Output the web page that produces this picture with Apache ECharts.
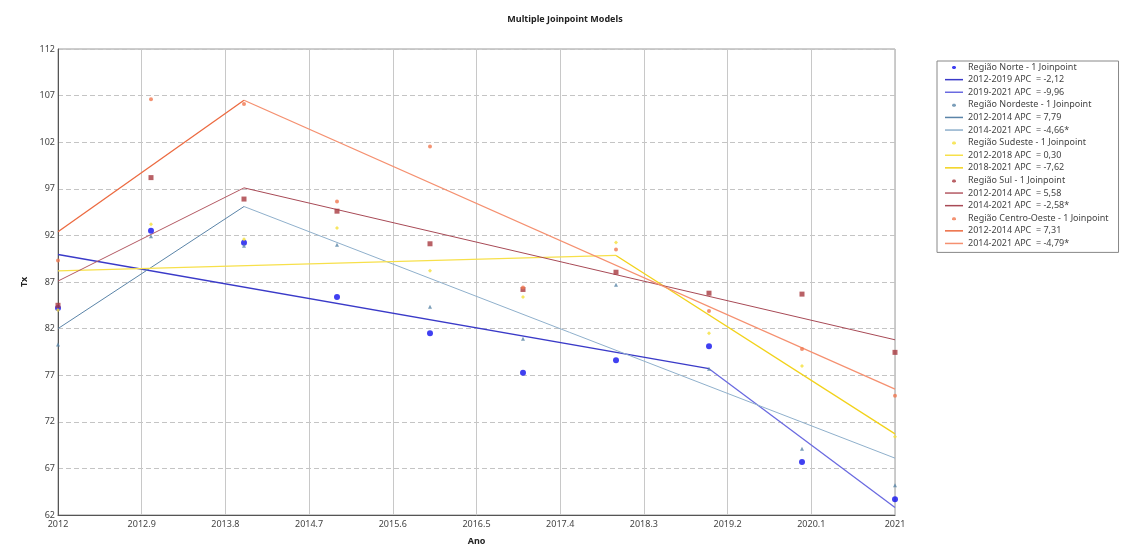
<!DOCTYPE html>
<html>
<head>
<meta charset="utf-8">
<script src="https://cdn.jsdelivr.net/npm/echarts@6/dist/echarts.min.js"></script>
<style>
  html, body { margin: 0; padding: 0; background: #fff; }
  #chart { width: 1132px; height: 551px; }
</style>
</head>
<body>
<div id="chart"></div>
<script>
// observed rates per region, 2012..2021
var years = [2012, 2013, 2014, 2015, 2016, 2017, 2018, 2019, 2020, 2021];
var norte = [84.2, 92.5, 91.2, 85.4, 81.5, 77.25, 78.6, 80.1, 67.7, 63.7];
var nordeste = [80.3, 91.9, 90.9, 91.0, 84.35, 80.9, 86.7, 77.7, 69.1, 65.2];
var sudeste = [84.0, 93.2, 91.6, 92.8, 88.2, 85.4, 91.25, 81.5, 78.0, 70.4];
var sul = [84.5, 98.2, 95.9, 94.6, 91.1, 86.2, 88.05, 85.8, 85.7, 79.45];
var centroOeste = [89.3, 106.6, 106.1, 95.65, 101.55, 86.4, 90.5, 83.9, 79.8, 74.8];

// joinpoint segments: [x, y] at segment ends
var norteSeg1 = [[2012, 89.95], [2019, 77.7]];
var norteSeg2 = [[2019, 77.7], [2021, 62.8]];
var nordesteSeg1 = [[2012, 82.0], [2014, 95.1]];
var nordesteSeg2 = [[2014, 95.1], [2021, 68.1]];
var sudesteSeg1 = [[2012, 88.2], [2018, 89.85]];
var sudesteSeg2 = [[2018, 89.85], [2021, 70.7]];
var sulSeg1 = [[2012, 87.1], [2014, 97.1]];
var sulSeg2 = [[2014, 97.1], [2021, 80.8]];
var coSeg1 = [[2012, 92.4], [2014, 106.5]];
var coSeg2 = [[2014, 106.5], [2021, 75.5]];

var chart = echarts.init(document.getElementById('chart'));

function pts(vals) {
  return years.map(function (y, i) { return [y, vals[i]]; });
}
function scatter(name, vals, symbol, size, color) {
  return {
    name: name, type: 'scatter', data: pts(vals), symbol: symbol, symbolSize: size,
    itemStyle: { color: color }, z: 3
  };
}
function seg(name, data, color, width) {
  return {
    name: name, type: 'line', data: data, symbol: 'none', showSymbol: false,
    lineStyle: { color: color, width: width || 1 }, itemStyle: { color: color }, z: 2
  };
}

var series = [
  scatter('Região Norte - 1 Joinpoint', norte, 'circle', 6, '#1010ee'),
  seg('2012-2019 APC  = -2,12', norteSeg1, '#3a3ac8', 1.3),
  seg('2019-2021 APC  = -9,96', norteSeg2, '#6a6ae0', 1.3),
  scatter('Região Nordeste - 1 Joinpoint', nordeste, 'triangle', 4, '#5a86a8'),
  seg('2012-2014 APC  = 7,79', nordesteSeg1, '#5a84a8'),
  seg('2014-2021 APC  = -4,66*', nordesteSeg2, '#8fb0cc'),
  scatter('Região Sudeste - 1 Joinpoint', sudeste, 'diamond', 4, '#f5e03a'),
  seg('2012-2018 APC  = 0,30', sudesteSeg1, '#f7e04a', 1.3),
  seg('2018-2021 APC  = -7,62', sudesteSeg2, '#f2d21a', 1.3),
  scatter('Região Sul - 1 Joinpoint', sul, 'rect', 5, '#a83a40'),
  seg('2012-2014 APC  = 5,58', sulSeg1, '#b45a64'),
  seg('2014-2021 APC  = -2,58*', sulSeg2, '#a84a56'),
  scatter('Região Centro-Oeste - 1 Joinpoint', centroOeste, 'circle', 4, '#f07850'),
  seg('2012-2014 APC  = 7,31', coSeg1, '#ec6a40', 1.3),
  seg('2014-2021 APC  = -4,79*', coSeg2, '#f59070', 1.3)
];

// legend icons: tiny dot for point series, short bar for segments (bbox 18x9)
var dotIcon = 'path://M0,0 M18,9 M8,3.5 L10,3.5 L11,4.5 L11,5.5 L10,6.5 L8,6.5 L7,5.5 L7,4.5 Z';
var lineIcon = 'path://M0,0 M18,9 M0,3.8 L18,3.8 L18,5.3 L0,5.3 Z';

var legendData = series.map(function (s) {
  if (s.type === 'scatter') {
    return { name: s.name, icon: dotIcon, itemStyle: { color: s.itemStyle.color } };
  }
  return { name: s.name, icon: lineIcon, itemStyle: { color: s.lineStyle.color } };
});

var option = {
  backgroundColor: '#fff',
  animation: false,
  textStyle: { fontFamily: 'Noto Sans, DejaVu Sans, sans-serif' },
  title: {
    text: 'Multiple Joinpoint Models',
    left: 560, top: 10, textAlign: 'center',
    textStyle: { fontSize: 9, fontWeight: 'bold', color: '#222' }
  },
  legend: {
    orient: 'vertical',
    left: 937, top: 61,
    padding: [1, 10, 4, 8],
    borderColor: '#888', borderWidth: 1,
    itemGap: 2.6,
    itemWidth: 18, itemHeight: 9,
    symbolKeepAspect: true,
    textStyle: { fontSize: 9, lineHeight: 10, color: '#444' },
    data: legendData
  },
  grid: {
    left: 58, right: 237, top: 49, bottom: 33,
    show: true, borderColor: '#9a9a9a', borderWidth: 1
  },
  xAxis: {
    type: 'value',
    min: 2012, max: 2021, interval: 0.9,
    name: 'Ano', nameLocation: 'middle', nameGap: 22,
    nameTextStyle: { fontSize: 9, fontWeight: 'bold', color: '#222' },
    axisLine: { show: true, onZero: false, lineStyle: { color: '#555' } },
    axisTick: { show: false },
    axisLabel: {
      fontSize: 9, color: '#444', margin: 5,
      formatter: function (v) {
        var r = Math.round(v * 10) / 10;
        return r % 1 === 0 ? String(r) : r.toFixed(1);
      }
    },
    splitLine: { show: true, lineStyle: { color: '#c8c8c8', width: 1 } }
  },
  yAxis: {
    type: 'value',
    min: 62, max: 112, interval: 5,
    name: 'Tx', nameLocation: 'middle', nameGap: 23,
    nameTextStyle: { fontSize: 9, fontWeight: 'bold', color: '#222' },
    axisLine: { show: true, onZero: false, lineStyle: { color: '#555' } },
    axisTick: { show: false },
    axisLabel: { fontSize: 9, color: '#444', margin: 3 },
    splitLine: { show: true, lineStyle: { color: '#c4c4c4', type: [5, 3] } }
  },
  series: series
};

chart.setOption(option);
</script>
</body>
</html>
